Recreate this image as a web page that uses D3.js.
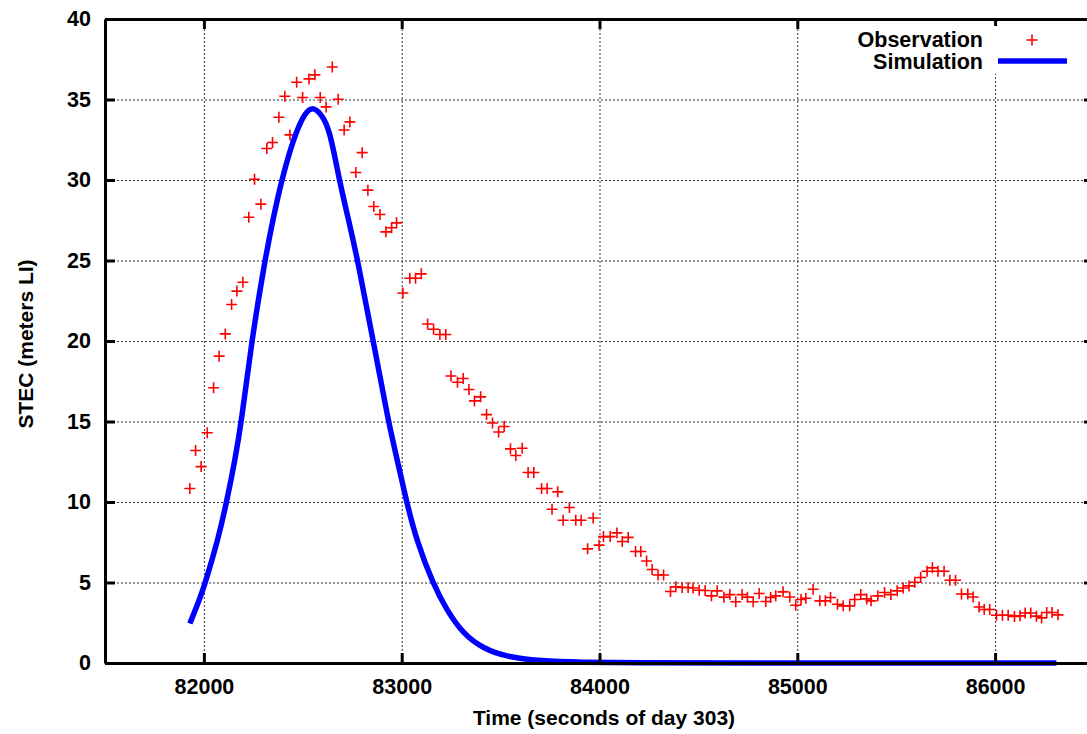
<!DOCTYPE html>
<html>
<head>
<meta charset="utf-8">
<script src="https://cdn.jsdelivr.net/npm/d3@7"></script>
<style>
  body { margin: 0; background: white; }
  text { font-family: "Liberation Sans", Arial, sans-serif; font-weight: bold; }
</style>
</head>
<body>
<div id="container"></div>
<script>
let w = 1087;
let h = 734;

// observation points (seconds of day, STEC)
let obsTime = [81929,81958,81986,82017,82049,82077,82108,82140,82167,82197,
  82227,82256,82288,82318,82347,82379,82409,82435,82469,82499,
  82531,82561,82588,82618,82649,82679,82709,82738,82768,82800,
  82829,82859,82890,82920,82949,82974,83006,83041,83070,83099,
  83131,83161,83193,83223,83249,83282,83311,83340,83368,83399,
  83429,83459,83490,83518,83550,83577,83609,83639,83668,83707,
  83735,83760,83789,83816,83848,83880,83907,83940,83968,83998,
  84020,84054,84088,84115,84145,84182,84209,84238,84266,84296,
  84324,84359,84386,84418,84448,84473,84504,84534,84566,84595,
  84629,84659,84689,84721,84748,84777,84807,84841,84865,84891,
  84928,84962,84992,85019,85043,85080,85114,85142,85168,85203,
  85232,85265,85290,85321,85351,85373,85407,85441,85473,85505,
  85535,85565,85594,85624,85656,85683,85711,85742,85771,85800,
  85830,85862,85889,85919,85945,85973,86007,86037,86066,86098,
  86126,86152,86180,86209,86235,86261,86288,86318];
let obsStec = [10.84,13.2,12.2,14.3,17.1,19.06,20.44,22.27,23.1,23.65,
  27.69,30.05,28.5,31.96,32.33,33.9,35.2,32.8,36.07,35.12,
  36.28,36.53,35.12,34.54,37.02,35.02,33.11,33.61,30.47,31.7,
  29.37,28.35,27.86,26.78,27.03,27.34,22.98,23.9,23.9,24.17,
  21.06,20.73,20.4,20.4,17.83,17.44,17.67,16.99,16.28,16.53,
  15.43,14.91,14.35,14.69,13.3,12.89,13.34,11.83,11.83,10.84,
  10.84,9.55,10.63,8.87,9.66,8.87,8.87,7.09,9.01,7.32,
  7.85,7.85,8.08,7.55,7.8,6.93,6.93,6.34,5.81,5.47,
  5.47,4.44,4.73,4.69,4.69,4.66,4.52,4.5,4.17,4.48,
  4.09,4.25,3.8,4.25,4.09,3.8,4.32,3.82,4.07,4.17,
  4.42,4.1,3.59,3.94,4.02,4.58,3.86,3.86,4.07,3.65,
  3.55,3.55,3.94,4.25,3.98,3.86,4.17,4.38,4.25,4.48,
  4.66,4.79,5.02,5.31,5.7,5.91,5.7,5.7,5.14,5.14,
  4.29,4.29,4.1,3.48,3.32,3.32,2.97,2.97,2.97,2.89,
  2.93,3.11,3.11,2.91,2.8,3.14,3.14,2.99];

// simulation curve
let simTime = [81929,81980,82010,82072,82115,82157,82190,82241,82308,82350,
  82393,82451,82502,82544,82595,82637,82684,82730,82778,82856,
  82932,82985,83025,83075,83159,83227,83311,83412,83530,83700,
  83900,84200,84600,86310];
let simStec = [2.45,4.0,5.1,7.7,10.0,12.6,15.0,20.0,25.0,27.6,
  30.0,32.5,34.0,34.6,34.1,33.1,30.0,27.6,25.0,20.0,
  15.0,12.2,10.0,7.6,4.9,3.3,1.8,0.9,0.38,0.12,
  0.04,0.01,0,0];

let xTicks = [82000,83000,84000,85000,86000];
let yTicks = [0,5,10,15,20,25,30,35,40];

let pLeft = 105, pRight = 1094, pTop = 19, pBottom = 663;

let viz = d3.select("#container")
  .append("svg")
    .attr("width", w)
    .attr("height", h)
    .style("background-color", "white");

let xScale = d3.scaleLinear().domain([81500, 86500]).range([pLeft, pRight]);
let yScale = d3.scaleLinear().domain([0, 40]).range([pBottom, pTop]);

// grid
let xGrid = viz.append("g").attr("class", "grid").attr("transform", "translate(0," + pBottom + ")")
  .call(d3.axisBottom(xScale).tickValues(xTicks).tickSize(-(pBottom - pTop)).tickFormat(""));
let yGrid = viz.append("g").attr("class", "grid").attr("transform", "translate(" + pLeft + ",0)")
  .call(d3.axisLeft(yScale).tickValues(yTicks).tickSize(-(pRight - pLeft)).tickFormat(""));
viz.selectAll(".grid .domain").remove();
viz.selectAll(".grid .tick line")
  .attr("stroke", "#333")
  .attr("stroke-width", 1)
  .attr("stroke-dasharray", "2,2");

// observation crosses
let cross = "M-5.5,0H5.5M0,-5.5V5.5";
viz.append("g").selectAll("path")
  .data(obsTime)
  .enter()
  .append("path")
    .attr("d", cross)
    .attr("transform", function(d, i) { return "translate(" + xScale(d) + "," + yScale(obsStec[i]) + ")"; })
    .attr("stroke", "#ff0000")
    .attr("stroke-width", 1.6)
    .attr("fill", "none");

// simulation line
let line = d3.line()
  .x(function(d) { return xScale(d); })
  .y(function(d, i) { return yScale(simStec[i]); })
  .curve(d3.curveBasis);
viz.append("path")
  .datum(simTime)
  .attr("d", line)
  .attr("fill", "none")
  .attr("stroke", "#0000ff")
  .attr("stroke-width", 5.5)
  .attr("stroke-linecap", "butt");

// border with inward ticks
function styleAxis(g) {
  g.select(".domain").attr("stroke", "black").attr("stroke-width", 3);
  g.selectAll(".tick line").attr("stroke", "black").attr("stroke-width", 3);
  g.selectAll(".tick text").attr("font-size", "21.5px").attr("fill", "black")
    .style("font-family", "'Liberation Sans', Arial, sans-serif").style("font-weight", "bold");
}
let xAxisG = viz.append("g").attr("class", "xaxis")
  .attr("transform", "translate(0," + pBottom + ")")
  .call(d3.axisBottom(xScale).tickValues(xTicks).tickSizeInner(-10).tickSizeOuter(0).tickPadding(16).tickFormat(d3.format("d")));
styleAxis(xAxisG);
let xTopG = viz.append("g")
  .attr("transform", "translate(0," + pTop + ")")
  .call(d3.axisTop(xScale).tickValues(xTicks).tickSizeInner(-10).tickSizeOuter(0).tickFormat(""));
styleAxis(xTopG);
let yAxisG = viz.append("g").attr("class", "yaxis")
  .attr("transform", "translate(" + pLeft + ",0)")
  .call(d3.axisLeft(yScale).tickValues(yTicks).tickSizeInner(-10).tickSizeOuter(0).tickPadding(14));
styleAxis(yAxisG);
let yRightG = viz.append("g")
  .attr("transform", "translate(" + pRight + ",0)")
  .call(d3.axisRight(yScale).tickValues(yTicks).tickSizeInner(-10).tickSizeOuter(0).tickFormat(""));
styleAxis(yRightG);

// axis titles
viz.append("text")
  .attr("x", 604).attr("y", 725)
  .attr("text-anchor", "middle")
  .attr("font-size", "21px")
  .text("Time (seconds of day 303)");
viz.append("text")
  .attr("transform", "translate(33,344) rotate(-90)")
  .attr("text-anchor", "middle")
  .attr("font-size", "21px")
  .text("STEC (meters LI)");

// legend
viz.append("rect").attr("x", 850).attr("y", 26).attr("width", 225).attr("height", 48).attr("fill", "white");
viz.append("text").attr("x", 983).attr("y", 47).attr("text-anchor", "end")
  .attr("font-size", "21.5px").text("Observation");
viz.append("text").attr("x", 983).attr("y", 69).attr("text-anchor", "end")
  .attr("font-size", "21.5px").text("Simulation");
viz.append("path").attr("d", cross)
  .attr("transform", "translate(1032,40)")
  .attr("stroke", "#ff0000").attr("stroke-width", 1.6);
viz.append("line").attr("x1", 998).attr("x2", 1067).attr("y1", 61).attr("y2", 61)
  .attr("stroke", "#0000ff").attr("stroke-width", 5.5);
</script>
</body>
</html>
